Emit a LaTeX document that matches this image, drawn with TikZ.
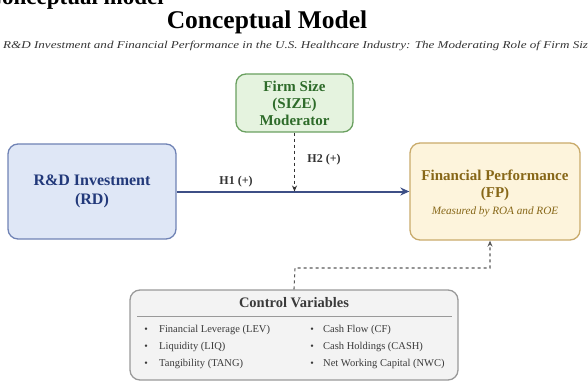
\documentclass[tikz,border=0pt]{standalone}
\usepackage{fontspec}
\setmainfont{Liberation Serif}
\usetikzlibrary{arrows.meta,positioning}
\definecolor{rdfill}{HTML}{DFE7F6}
\definecolor{rdline}{HTML}{7083B5}
\definecolor{rdtext}{HTML}{22397A}
\definecolor{arrowblue}{HTML}{3D4F86}
\definecolor{fpfill}{HTML}{FDF4DC}
\definecolor{fpline}{HTML}{C9AB6B}
\definecolor{fptext}{HTML}{876718}
\definecolor{szfill}{HTML}{E5F3DF}
\definecolor{szline}{HTML}{6AA060}
\definecolor{sztext}{HTML}{2E6B2A}
\definecolor{cvfill}{HTML}{F3F3F3}
\definecolor{cvline}{HTML}{999999}
\definecolor{cvtext}{HTML}{3A3A3A}
\tikzset{
  box/.style={draw, line width=1.3pt, rounded corners=10pt, align=center, inner sep=2pt},
  item/.style={anchor=west, inner sep=0pt, font=\fontsize{10.5}{12}\selectfont, text=cvtext},
  bul/.style={anchor=center, inner sep=0pt, font=\fontsize{10}{12}\selectfont, text=cvtext},
}
\begin{document}
\begin{tikzpicture}[x=1pt,y=-1pt]
\useasboundingbox (0,0) rectangle (588,382);
% clipped heading
\node[anchor=base east, inner sep=0pt, font=\fontsize{23}{26}\bfseries] (cut) at (164,5) {Conceptual model};
% title
\node[inner sep=0pt, font=\fontsize{25.5}{28}\bfseries] (title) at (267,22) {Conceptual Model};
\node[anchor=west, inner sep=0pt, font=\fontsize{10.5}{12}\itshape, text=black!80] (sub) at (3,46) {\scalebox{1.245}[1]{R\&D Investment and Financial Performance in the U.S. Healthcare Industry: The Moderating Role of Firm Size}};
% boxes
\node[box, fill=rdfill, draw=rdline, text=rdtext, minimum width=168pt, minimum height=95pt,
      font=\fontsize{16}{19}\bfseries] (RD) at (92,191.5) {R\&D Investment\\(RD)};
\node[box, fill=fpfill, draw=fpline, text=fptext, minimum width=170pt, minimum height=97pt] (FP) at (495,191.5) {};
\node[text=fptext, align=center, inner sep=0pt, font=\fontsize{15}{17}\bfseries] (FPt) at (495,185) {Financial Performance\\(FP)};
\node[text=fptext, inner sep=0pt, font=\fontsize{11.2}{13}\itshape] (FPm) at (495,212) {Measured by ROA and ROE};
\node[box, fill=szfill, draw=szline, text=sztext, minimum width=117pt, minimum height=58pt,
      font=\fontsize{15}{17}\bfseries] (SZ) at (294.5,103) {Firm Size\\(SIZE)\\Moderator};
\node[box, fill=cvfill, draw=cvline, minimum width=328pt, minimum height=90pt] (CV) at (294,335) {};
\node[inner sep=0pt, text=cvtext, font=\fontsize{14.5}{16}\bfseries] (CVt) at (294,303) {Control Variables};
\draw[cvline, line width=0.8pt] (137,316) -- (452,316);
% items
\node[bul] (b1) at (146,330) {•};
\node[bul] (b2) at (146,347) {•};
\node[bul] (b3) at (146,364) {•};
\node[item] (i1) at (159,330) {Financial Leverage (LEV)};
\node[item] (i2) at (159,347) {Liquidity (LIQ)};
\node[item] (i3) at (159,364) {Tangibility (TANG)};
\node[bul] (b4) at (312,330) {•};
\node[bul] (b5) at (312,347) {•};
\node[bul] (b6) at (312,364) {•};
\node[item] (i4) at (323,330) {Cash Flow (CF)};
\node[item] (i5) at (323,347) {Cash Holdings (CASH)};
\node[item] (i6) at (323,364) {Net Working Capital (NWC)};
% connectors
\draw[arrowblue, line width=2pt, -{Stealth[length=9pt,width=8pt]}] (RD.east) -- (FP.west);
\node[inner sep=0pt, font=\fontsize{12}{14}\bfseries, text=black!80] (H1) at (236,182) {H1 (+)};
\coordinate (J) at (SZ.south |- RD.east);
\draw[black!80, line width=1.1pt, dashed, -{Stealth[length=6pt,width=5pt]}] (SZ.south) -- (J);
\node[inner sep=0pt, font=\fontsize{12}{14}\bfseries, text=black!80] (H2) at (324,160) {H2 (+)};
\coordinate (K) at (295,268);
\draw[black!65, line width=1.1pt, dashed, -{Stealth[length=6pt,width=5pt]}] (CV.north) -- (K) -| ([xshift=-5pt]FP.south);
\end{tikzpicture}
\end{document}
